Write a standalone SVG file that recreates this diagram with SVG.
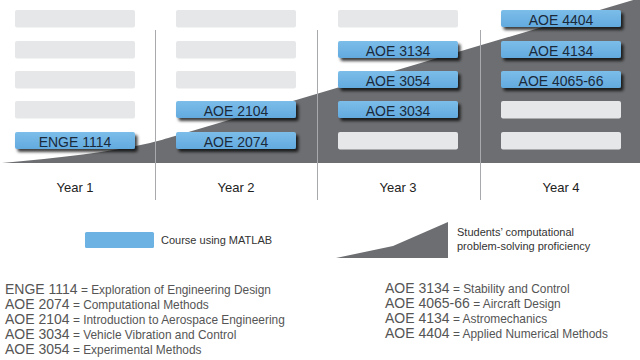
<svg xmlns="http://www.w3.org/2000/svg" width="640" height="360" viewBox="0 0 640 360">
<defs>
<filter id="sh" x="-10%" y="-30%" width="125%" height="180%">
<feDropShadow dx="2.5" dy="3" stdDeviation="1.6" flood-color="#000" flood-opacity="0.75"/>
</filter>
<linearGradient id="bl" x1="0" y1="0" x2="0" y2="1">
<stop offset="0" stop-color="#7cbde9"/>
<stop offset="1" stop-color="#62aadf"/>
</linearGradient>
<style>
.g{fill:#e6e7e8}
.b{fill:url(#bl);filter:url(#sh)}
.bt{font-family:"Liberation Sans",Arial,sans-serif;font-size:14px;fill:#1b2a3b;text-anchor:middle}
.yr{font-family:"Liberation Sans",Arial,sans-serif;font-size:13px;fill:#222;text-anchor:middle}
.lg{font-family:"Liberation Sans",Arial,sans-serif;font-size:11px;fill:#333}
.df{font-family:"Liberation Sans",Arial,sans-serif;font-size:11.9px;fill:#555}
.cd{font-size:14px}
.dv{stroke:#a7a9ac;stroke-width:1}
</style>
</defs>
<rect width="640" height="360" fill="#fff"/>
<path id="proficiency-area" d="M2,163 C60,158 110,152 150,143 C160,140.5 165,139 175,136 L640,-2 L640,163 Z" fill="#6d6e71"/>
<g id="dividers">
<line class="dv" x1="155.5" y1="30" x2="155.5" y2="200"/>
<line class="dv" x1="317.5" y1="30" x2="317.5" y2="200"/>
<line class="dv" x1="480.5" y1="30" x2="480.5" y2="200"/>
</g>
<g id="empty-slots">
<rect class="g" x="15" y="10" width="120" height="17.5" rx="2"/>
<rect class="g" x="15" y="41" width="120" height="17.5" rx="2"/>
<rect class="g" x="15" y="71" width="120" height="17.5" rx="2"/>
<rect class="g" x="15" y="101" width="120" height="17.5" rx="2"/>
<rect class="g" x="176" y="10" width="120" height="17.5" rx="2"/>
<rect class="g" x="176" y="41" width="120" height="17.5" rx="2"/>
<rect class="g" x="176" y="71" width="120" height="17.5" rx="2"/>
<rect class="g" x="338" y="10" width="120" height="17.5" rx="2"/>
<rect class="g" x="338" y="132" width="120" height="17.5" rx="2"/>
<rect class="g" x="501" y="101" width="120" height="17.5" rx="2"/>
<rect class="g" x="501" y="132" width="120" height="17.5" rx="2"/>
</g>
<g id="enge1114"><rect class="b" x="15" y="132" width="120" height="17" rx="2"/><text class="bt" x="75" y="147">ENGE 1114</text></g>
<g id="aoe2104"><rect class="b" x="176" y="101" width="120" height="17" rx="2"/><text class="bt" x="236" y="116">AOE 2104</text></g>
<g id="aoe2074"><rect class="b" x="176" y="132" width="120" height="17" rx="2"/><text class="bt" x="236" y="147">AOE 2074</text></g>
<g id="aoe3134"><rect class="b" x="338" y="41" width="120" height="17" rx="2"/><text class="bt" x="398" y="56">AOE 3134</text></g>
<g id="aoe3054"><rect class="b" x="338" y="71" width="120" height="17" rx="2"/><text class="bt" x="398" y="86">AOE 3054</text></g>
<g id="aoe3034"><rect class="b" x="338" y="101" width="120" height="17" rx="2"/><text class="bt" x="398" y="116">AOE 3034</text></g>
<g id="aoe4404"><rect class="b" x="501" y="10" width="120" height="17" rx="2"/><text class="bt" x="561" y="25">AOE 4404</text></g>
<g id="aoe4134"><rect class="b" x="501" y="41" width="120" height="17" rx="2"/><text class="bt" x="561" y="56">AOE 4134</text></g>
<g id="aoe4065"><rect class="b" x="501" y="71" width="120" height="17" rx="2"/><text class="bt" x="561" y="86">AOE 4065-66</text></g>
<g id="years">
<text class="yr" x="75" y="192">Year 1</text>
<text class="yr" x="236" y="192">Year 2</text>
<text class="yr" x="398" y="192">Year 3</text>
<text class="yr" x="561" y="192">Year 4</text>
</g>
<g id="legend-matlab">
<rect x="85" y="232" width="69" height="16" rx="1.5" fill="#6cb2e2"/>
<text class="lg" x="161" y="244">Course using MATLAB</text>
</g>
<g id="legend-proficiency">
<path d="M336,258 L393,246 L448,222 L448,258 Z" fill="#6d6e71"/>
<text class="lg" x="457" y="236">Students’ computational</text>
<text class="lg" x="457" y="250">problem-solving proficiency</text>
</g>
<g id="definitions">
<text class="df" x="5" y="294"><tspan class="cd">ENGE 1114</tspan> = Exploration of Engineering Design</text>
<text class="df" x="5" y="309"><tspan class="cd">AOE 2074</tspan> = Computational Methods</text>
<text class="df" x="5" y="324"><tspan class="cd">AOE 2104</tspan> = Introduction to Aerospace Engineering</text>
<text class="df" x="5" y="339"><tspan class="cd">AOE 3034</tspan> = Vehicle Vibration and Control</text>
<text class="df" x="5" y="354"><tspan class="cd">AOE 3054</tspan> = Experimental Methods</text>
<text class="df" x="385" y="293"><tspan class="cd">AOE 3134</tspan> = Stability and Control</text>
<text class="df" x="385" y="308"><tspan class="cd">AOE 4065-66</tspan> = Aircraft Design</text>
<text class="df" x="385" y="323"><tspan class="cd">AOE 4134</tspan> = Astromechanics</text>
<text class="df" x="385" y="338"><tspan class="cd">AOE 4404</tspan> = Applied Numerical Methods</text>
</g>
</svg>
